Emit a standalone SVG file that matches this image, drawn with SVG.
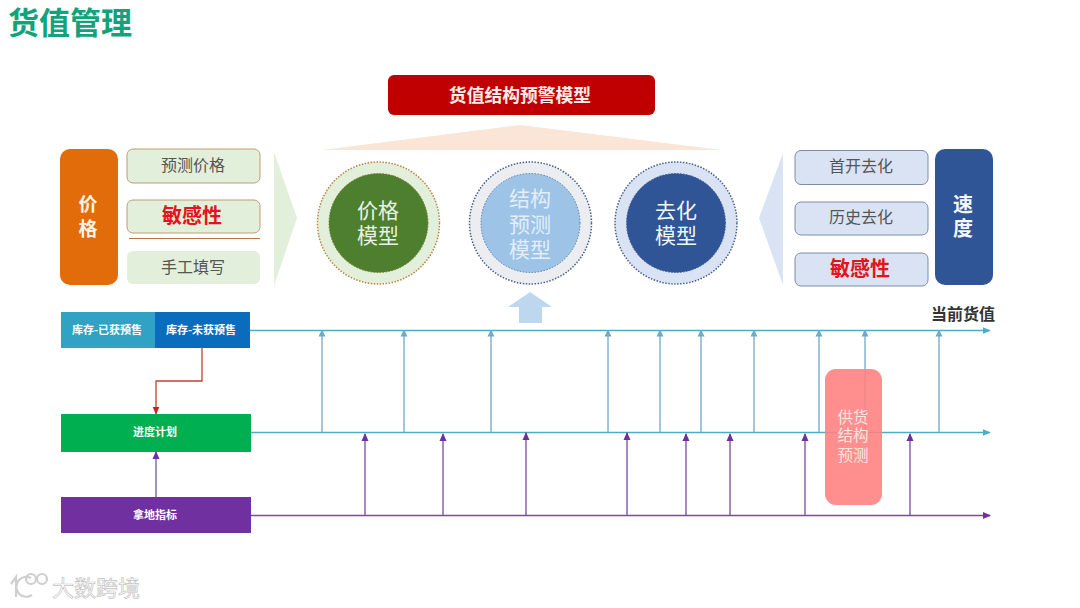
<svg xmlns="http://www.w3.org/2000/svg" width="1080" height="608" viewBox="0 0 1080 608">
<defs>
<marker id="ab" markerWidth="7" markerHeight="8" refX="6.5" refY="4" orient="auto" markerUnits="userSpaceOnUse"><path d="M0,0.5L7,4L0,7.5Z" fill="#6FA8CC"/></marker>
<marker id="at" markerWidth="8" markerHeight="8" refX="7.5" refY="4" orient="auto" markerUnits="userSpaceOnUse"><path d="M0,0.5L8,4L0,7.5Z" fill="#4BACC6"/></marker>
<marker id="ap" markerWidth="8" markerHeight="8" refX="7" refY="4" orient="auto" markerUnits="userSpaceOnUse"><path d="M0,0.5L8,4L0,7.5Z" fill="#7030A0"/></marker>
<marker id="ar" markerWidth="8" markerHeight="8" refX="7.5" refY="4" orient="auto" markerUnits="userSpaceOnUse"><path d="M0,0.5L8,4L0,7.5Z" fill="#D0201C"/></marker>
</defs>
<style>
text{font-family:"Noto Sans CJK SC","Noto Sans",sans-serif;text-anchor:middle}
.b{font-weight:700}
.lg{fill:#E2EFDA;stroke:#C49A74;stroke-width:1}
.lb{fill:#DAE3F3;stroke:#7A8CA8;stroke-width:1}
.t{font-size:16px;fill:#555}
.red{font-size:20px;font-weight:700;fill:#E3141C}
.cm{font-size:21px;fill:#E8F2E4}
.w{fill:#fff;font-size:11px;font-weight:700}
.bl{stroke:#6FA8CC;stroke-width:1.3;fill:none;marker-end:url(#ab)}
.pu{stroke:#7B4A9E;stroke-width:1.3;fill:none;marker-end:url(#ap)}
</style>
<rect width="1080" height="608" fill="#fff"/>
<text id="title" x="70" y="34" class="b" font-size="31" fill="#12A37C">货值管理</text>

<g id="node-top"><rect x="388" y="75" width="267" height="40" rx="6" fill="#C00000"/><text x="520" y="102" class="b" font-size="17.800" fill="#F8EDE8">货值结构预警模型</text></g>
<polygon id="roof" points="322,150 520,125 722,150" fill="#FBE5D6"/>

<g id="node-price"><rect x="60" y="149" width="58" height="136" rx="10" fill="#E36C0A"/><text class="b" font-size="19" fill="#FBF3EA"><tspan x="88" y="211">价</tspan><tspan x="88" y="236">格</tspan></text></g>
<g id="node-p1"><rect class="lg" x="127" y="149" width="133" height="34" rx="6"/><text class="t" x="193" y="171">预测价格</text></g>
<g id="node-p2"><rect class="lg" x="127" y="200" width="133" height="33" rx="6"/><text class="red" x="192" y="223">敏感性</text></g>
<line id="sep" x1="129" y1="238.500" x2="260" y2="238.500" stroke="#B5764A" stroke-width="1"/>
<g id="node-p3"><rect x="127" y="251" width="133" height="33" rx="6" fill="#E2EFDA"/><text class="t" x="193" y="273">手工填写</text></g>
<polygon id="chev-l" points="274,152 297,218 274,286" fill="#E2EFDA"/>

<g id="node-m1"><circle cx="378.500" cy="223" r="61" fill="#E2EFDA" stroke="#C0813E" stroke-width="1.500" stroke-dasharray="1.500 1.500"/><circle cx="378.500" cy="223" r="49.500" fill="#4E7F2F" stroke="#7E7A30" stroke-width="1" stroke-dasharray="1.500 1.500"/><text class="cm"><tspan x="378" y="218">价格</tspan><tspan x="378" y="243">模型</tspan></text></g>
<g id="node-m2"><circle cx="530.500" cy="223" r="61" fill="#EBEDF0" stroke="#44608C" stroke-width="1.500" stroke-dasharray="1.500 1.500"/><circle cx="530.500" cy="223" r="49.500" fill="#9DC3E6" stroke="#5A7CA8" stroke-width="1" stroke-dasharray="1.500 1.500"/><text class="cm" style="fill:#E3EEF8"><tspan x="530" y="206">结构</tspan><tspan x="530" y="232">预测</tspan><tspan x="530" y="257">模型</tspan></text></g>
<g id="node-m3"><circle cx="676" cy="223" r="61" fill="#DAE3F3" stroke="#44608C" stroke-width="1.500" stroke-dasharray="1.500 1.500"/><circle cx="676" cy="223" r="49.500" fill="#2F5597" stroke="#3F5F95" stroke-width="1" stroke-dasharray="1.500 1.500"/><text class="cm" style="fill:#F2F5FA"><tspan x="676" y="218">去化</tspan><tspan x="676" y="243">模型</tspan></text></g>

<polygon id="chev-r" points="783,153 759,218 783,285" fill="#DAE3F3"/>
<g id="node-s1"><rect class="lb" x="795" y="150.500" width="133" height="34" rx="6"/><text class="t" x="861" y="172">首开去化</text></g>
<g id="node-s2"><rect class="lb" x="795" y="202" width="133" height="33" rx="6"/><text class="t" x="861" y="223">历史去化</text></g>
<g id="node-s3"><rect class="lb" x="795" y="253" width="133" height="33" rx="6"/><text class="red" x="860" y="276">敏感性</text></g>
<g id="node-speed"><rect x="935" y="149" width="58" height="136" rx="10" fill="#2F5597"/><text class="b" font-size="20" fill="#F4F6FA"><tspan x="963" y="212">速</tspan><tspan x="963" y="236">度</tspan></text></g>

<polygon id="up-arrow" points="530,292 552,307 542,307 542,323 519,323 519,307 508,307" fill="#BDD7EE"/>

<g id="connectors">
<line x1="250" y1="330.500" x2="990" y2="330.500" stroke="#4BACC6" stroke-width="1.300" marker-end="url(#at)"/>
<line x1="251" y1="432.500" x2="990" y2="432.500" stroke="#4BACC6" stroke-width="1.300" marker-end="url(#at)"/>
<line x1="251" y1="515.500" x2="990" y2="515.500" stroke="#7B4A9E" stroke-width="1.300" marker-end="url(#ap)"/>
<path class="bl" d="M322,432V330"/><path class="bl" d="M404,432V330"/><path class="bl" d="M491,432V330"/><path class="bl" d="M608,432V330"/><path class="bl" d="M660,432V330"/><path class="bl" d="M701,432V330"/><path class="bl" d="M754,432V330"/><path class="bl" d="M819,432V330"/><path class="bl" d="M865,432V330"/><path class="bl" d="M939,432V330"/>
<path class="pu" d="M365,515V434"/><path class="pu" d="M443,515V434"/><path class="pu" d="M526,515V433"/><path class="pu" d="M627,515V433"/><path class="pu" d="M686,515V434"/><path class="pu" d="M730,515V434"/><path class="pu" d="M805,515V434"/><path class="pu" d="M910,515V434"/>
<path d="M202,348V381H156V414" fill="none" stroke="#C8402F" stroke-width="1.300" marker-end="url(#ar)"/>
<path d="M156,497V452" fill="none" stroke="#6E5A96" stroke-width="1.300" marker-end="url(#ap)"/>
</g>

<g id="node-supply"><rect x="825" y="369" width="57" height="136" rx="11" fill="#FF8080" fill-opacity=".88"/><text font-size="15.500" fill="#FBE4E0"><tspan x="853" y="423">供货</tspan><tspan x="853" y="441">结构</tspan><tspan x="853" y="461">预测</tspan></text></g>

<g id="node-inv1"><rect x="61" y="312" width="94" height="36" fill="#31A2C4"/><text class="w" x="107" y="334">库存-已获预售</text></g>
<g id="node-inv2"><rect x="155" y="312" width="95" height="36" fill="#0A6CBC"/><text class="w" x="201" y="334">库存-未获预售</text></g>
<g id="node-plan"><rect x="61" y="414" width="190" height="38" fill="#00AF50"/><text class="w" x="155" y="436">进度计划</text></g>
<g id="node-land"><rect x="61" y="497" width="190" height="36" fill="#7030A0"/><text class="w" x="155" y="519">拿地指标</text></g>

<text id="label-cur" x="963" y="320" class="b" font-size="16" fill="#333">当前货值</text>

<g id="watermark">
<g fill="none" stroke="#CFCFCF" stroke-width="2.200"><path d="M11,584L16,577V597"/><path d="M31,578A10,10 0 1 0 32,595"/><circle cx="31" cy="579" r="5"/><circle cx="42" cy="579" r="5"/></g>
<text x="96" y="596" font-size="22" fill="#fff" stroke="#C4C4C4" stroke-width=".7">大数跨境</text>
</g>
</svg>
